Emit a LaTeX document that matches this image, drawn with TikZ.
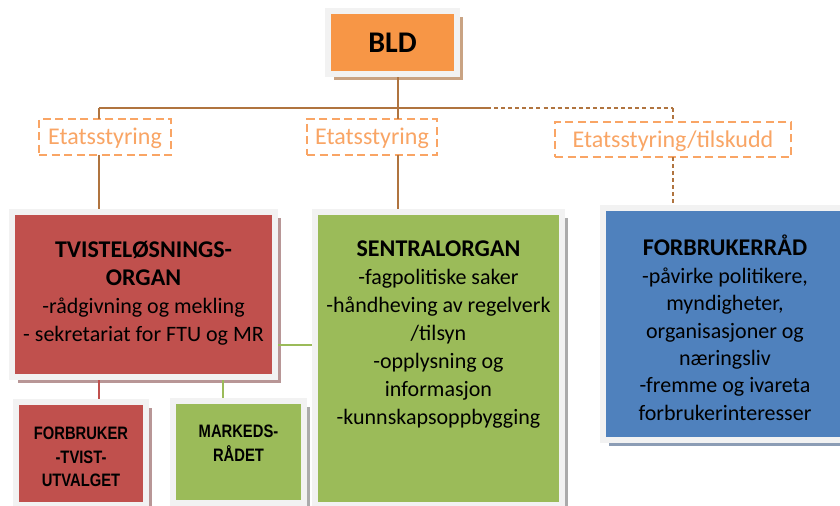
\documentclass[tikz,border=0pt]{standalone}
\usepackage{fontspec}
\setmainfont{Carlito}
\newfontfamily\narrowfont[FakeStretch=0.82]{Liberation Sans}
\usetikzlibrary{shadows}
\definecolor{bldorange}{HTML}{F79646}
\definecolor{boxred}{HTML}{C0504D}
\definecolor{boxgreen}{HTML}{9BBB59}
\definecolor{boxblue}{HTML}{4F81BD}
\definecolor{framegray}{HTML}{F2F2F2}
\definecolor{labelorange}{HTML}{F9A565}
\definecolor{connbrown}{HTML}{B0743F}
\definecolor{shtan}{HTML}{C9A383}
\definecolor{shred}{HTML}{B89696}
\definecolor{shgreen}{HTML}{ABABAB}
\definecolor{shblue}{HTML}{8C9DB5}
\newcommand{\hdline}[1]{{\bfseries\fontsize{18}{21}\selectfont #1}}
\tikzset{
  orgbox/.style={rectangle, draw=framegray, line width=4.5pt, inner sep=0pt, outer sep=0pt},
  shadowed/.style={drop shadow={shadow xshift=4.5pt, shadow yshift=-4.5pt, fill=#1, opacity=1}},
  lab/.style={rectangle, draw=labelorange, line width=1.5pt, dash pattern=on 6pt off 3.4pt,
    text=labelorange, font=\fontsize{18}{21}\selectfont, inner sep=0pt, outer sep=0pt,
    text height=14pt, text depth=2pt},
  conn/.style={draw=connbrown, line width=1pt},
  conndash/.style={conn, dash pattern=on 3pt off 2.3pt},
  bodytext/.style={align=center, anchor=north, inner sep=0pt, outer sep=0pt, font=\fontsize{16.5}{21}\selectfont},
  smalltext/.style={align=center, anchor=north, inner sep=0pt, outer sep=0pt, font=\narrowfont\bfseries\fontsize{13.5}{17.6}\selectfont},
}
\begin{document}
\begin{tikzpicture}[x=0.75pt, y=-0.75pt]
\clip (0,0) rectangle (840,506);
\fill[white] (0,0) rectangle (840,506);
% junction coordinates
\coordinate (jl) at (99,108);
\coordinate (jm) at (398,108);
\coordinate (js) at (487,108);
\coordinate (jr) at (673,108);
\coordinate (gx) at (223,390);
\coordinate (gy) at (296,345);
% label boxes
\node[lab, minimum width=99pt, minimum height=27pt] (leftlab) at (105,137) {Etatsstyring};
\node[lab, minimum width=97.5pt, minimum height=27pt] (midlab) at (372,137) {Etatsstyring};
\node[lab, minimum width=177pt, minimum height=26.25pt] (rightlab) at (673,139.5) {Etatsstyring/tilskudd};
% boxes
\node[orgbox, shadowed=shtan, fill=bldorange, minimum width=96.75pt, minimum height=47.25pt] (bld) at (392.5,42.5) {};
\node[orgbox, shadowed=shred, fill=boxred, minimum width=197.25pt, minimum height=123.75pt] (tvist) at (143.5,294.5) {};
\node[orgbox, shadowed=shgreen, fill=boxgreen, minimum width=185.25pt, minimum height=219.75pt] (sentral) at (438.5,358.5) {};
\node[orgbox, shadowed=shblue, fill=boxblue, minimum width=200.25pt, minimum height=174pt] (forb) at (736.5,324) {};
\node[orgbox, shadowed=shred, fill=boxred, minimum width=97.5pt, minimum height=77.25pt] (ftu) at (81,453.5) {};
\node[orgbox, shadowed=shgreen, fill=boxgreen, minimum width=98.25pt, minimum height=76.5pt] (mark) at (238.5,452) {};
% connectors
\draw[conn] (bld.south -| jm) -- (midlab.north -| jm);
\draw[conn] (jl) -- (js);
\draw[conndash] (js) -- (jr);
\draw[conn] (jl) -- (leftlab.north -| jl);
\draw[conn] (leftlab.south -| jl) -- (tvist.north -| jl);
\draw[conn] (midlab.south -| jm) -- (sentral.north -| jm);
\draw[conndash] (jr) -- (rightlab.north -| jr);
\draw[conndash] (rightlab.south -| jr) -- (forb.north -| jr);
\draw[draw=boxred, line width=1pt] (tvist.south -| jl) -- (ftu.north -| jl);
\draw[draw=boxgreen, line width=1pt] (tvist.south -| gx) -- (mark.north -| gx);
\draw[draw=boxgreen, line width=1pt] (tvist.east |- gy) -- (sentral.west |- gy);
% redraw frames over connector ends
\foreach \n in {bld,tvist,sentral,forb,ftu,mark}{
  \draw[framegray, line width=4.5pt] (\n.north west) rectangle (\n.south east);
}
% texts
\node[font=\bfseries\fontsize{22.5}{27}\selectfont, inner sep=0pt] (bldtext) at (bld.center) {BLD};
\node[bodytext] (tvtext) at (143.5,241) {\hdline{TVISTELØSNINGS-}\\\hdline{ORGAN}\\-rådgivning og mekling\\- sekretariat for FTU og MR};
\node[bodytext] (setext) at (438.5,241) {\hdline{SENTRALORGAN}\\-fagpolitiske saker\\-håndheving av regelverk\\/tilsyn\\-opplysning og\\informasjon\\-kunnskapsoppbygging};
\node[bodytext, font=\fontsize{16.5}{20.6}\selectfont] (fotext) at (725,235) {\hdline{FORBRUKERRÅD}\\-påvirke politikere,\\myndigheter,\\organisasjoner og\\næringsliv\\-fremme og ivareta\\forbrukerinteresser};
\node[smalltext] (fttext) at (81,427) {FORBRUKER\\-TVIST-\\UTVALGET};
\node[smalltext] (matext) at (238.5,425) {MARKEDS-\\RÅDET};
\end{tikzpicture}
\end{document}
